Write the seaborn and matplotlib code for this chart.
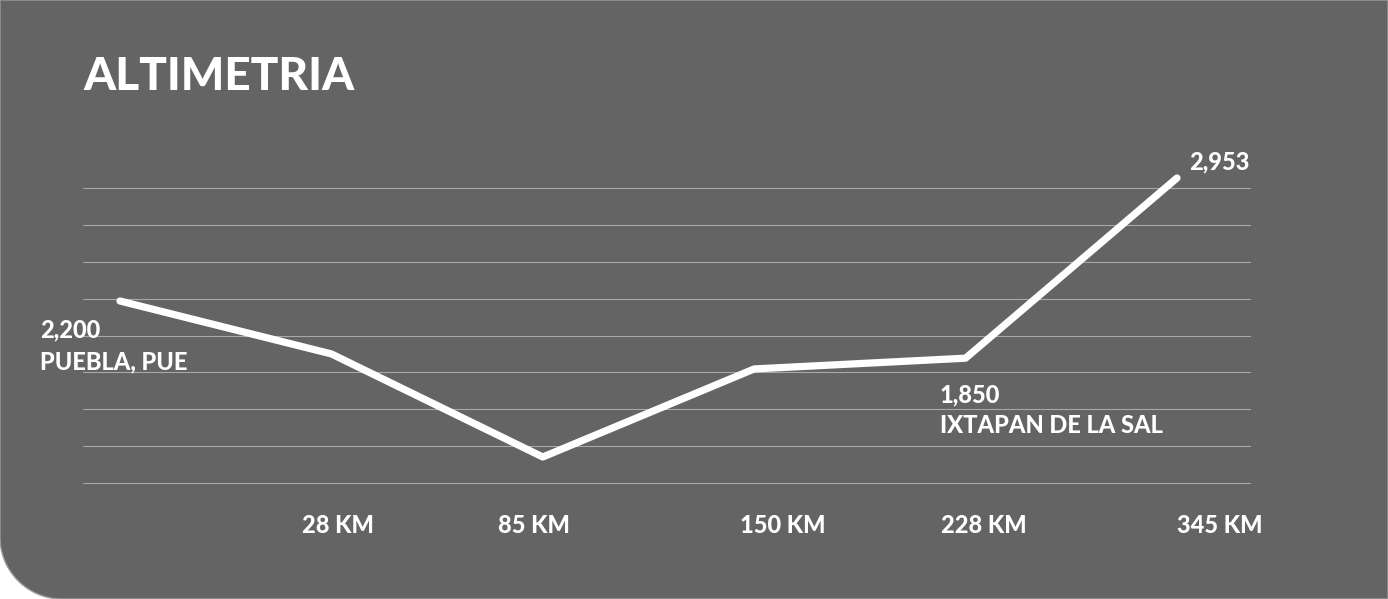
import numpy as np
import pandas as pd
import matplotlib
matplotlib.use("Agg")
import matplotlib.pyplot as plt
from matplotlib.path import Path
from matplotlib.patches import PathPatch
import seaborn as sns

# ---- data ----
km_labels = ["0 KM", "28 KM", "85 KM", "150 KM", "228 KM", "345 KM"]
altitude = [2200, 1876, 1245, 1784, 1850, 2953]
start_value, start_name = "2,200", "PUEBLA, PUE"
end_value = "2,953"
mid_value, mid_name = "1,850", "IXTAPAN DE LA SAL"
title = "ALTIMETRIA"

W, H = 1388, 599
BG = "#646464"
FONT = ["Lato", "DejaVu Sans"]

sns.set_theme(style="white")
plt.rcParams["font.family"] = FONT

fig = plt.figure(figsize=(W / 100, H / 100), dpi=100, facecolor="white")

# background panel with rounded bottom-left corner (figure pixel coords)
r = 62
theta = np.linspace(np.pi, 1.5 * np.pi, 30)
verts = [(0, H), (W, H), (W, 0), (r, 0)] + \
        [(r + r * np.cos(t), r + r * np.sin(t)) for t in theta[::-1]] + [(0, H)]
verts = [(x / W, y / H) for x, y in verts]
codes = [Path.MOVETO] + [Path.LINETO] * (len(verts) - 2) + [Path.CLOSEPOLY]
panel = PathPatch(Path(verts, codes), transform=fig.transFigure,
                  facecolor=BG, edgecolor="#9c9c9c", linewidth=1.0, zorder=-5)
fig.patches.append(panel)

# axes spanning full height; pixel mapping via limits
ax_left, ax_right = 83, 1251
ax = fig.add_axes([ax_left / W, 0, (ax_right - ax_left) / W, 1], zorder=2)
ax.set_facecolor("none")
ax.patch.set_alpha(0)

x0_px, dx_px = 120, 211.4
ax.set_xlim((ax_left - x0_px) / dx_px, (ax_right - x0_px) / dx_px)
upp = (2953 - 2200) / (301 - 178)  # units per pixel
ax.set_ylim(2200 - (H - 301) * upp, 2200 + 301 * upp)

# grid lines
grid_px = np.linspace(188, 483, 9)
for gp in grid_px:
    ax.axhline(2200 + (301 - gp) * upp, color="#a8a8a8", lw=0.8, zorder=1)

df = pd.DataFrame({"x": np.arange(len(altitude)), "alt": altitude})
sns.lineplot(data=df, x="x", y="alt", ax=ax, color="white", lw=5.2,
             solid_capstyle="round", solid_joinstyle="round", zorder=3)

for s in ax.spines.values():
    s.set_visible(False)
ax.set_xticks([]); ax.set_yticks([])
ax.set_xlabel(""); ax.set_ylabel("")

def px(x, y):
    return (x / W, 1 - y / H)

txt = dict(color="white", fontweight="black", transform=fig.transFigure, zorder=5)

fig.text(*px(83, 90), title, fontsize=33, ha="left", va="baseline", **txt)
fig.text(*px(40, 337), start_value, fontsize=17, ha="left", va="baseline", **txt)
fig.text(*px(40, 369), start_name, fontsize=17, ha="left", va="baseline", **txt)
fig.text(*px(1189, 169), end_value, fontsize=17, ha="left", va="baseline", **txt)
fig.text(*px(940, 402), mid_value, fontsize=17, ha="left", va="baseline", **txt)
fig.text(*px(940, 433), mid_name, fontsize=17, ha="left", va="baseline", **txt)

label_centers = [None, 338, 534, 783, 984, 1220]
for lab, cx in zip(km_labels, label_centers):
    if cx is None:
        continue
    fig.text(*px(cx, 533), lab, fontsize=17, ha="center", va="baseline", **txt)

fig.savefig("out.png", dpi=100, facecolor="white")
